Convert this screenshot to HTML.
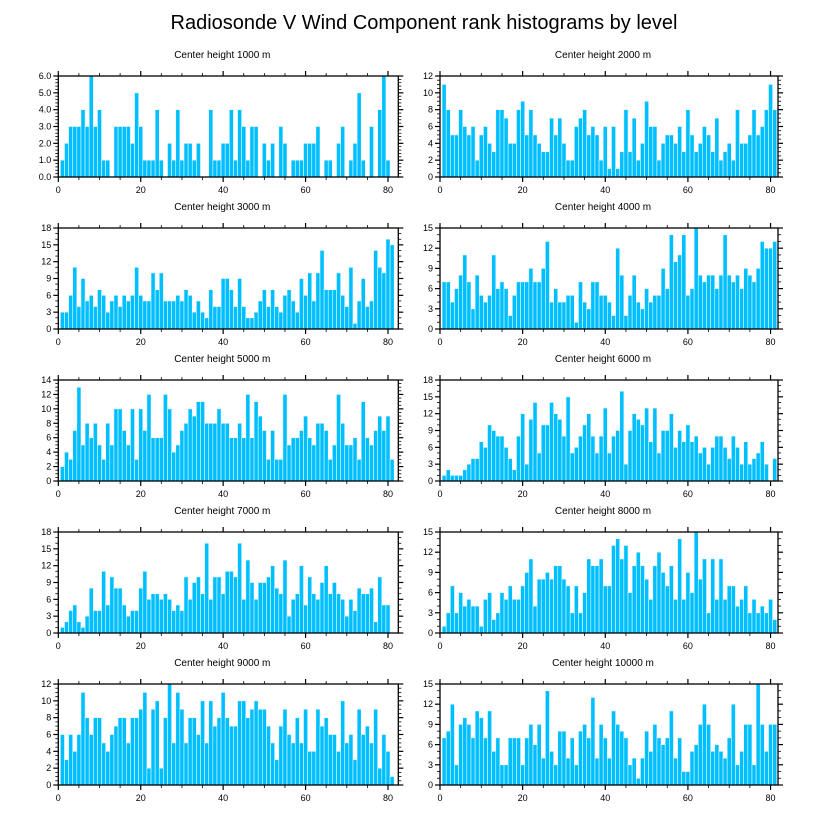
<!DOCTYPE html>
<html><head><meta charset="utf-8"><style>
html,body{margin:0;padding:0;background:#fff;}
svg{display:block;font-family:"Liberation Sans",sans-serif;}
</style></head><body>
<svg id="chart" width="818" height="824" viewBox="0 0 818 824" xmlns="http://www.w3.org/2000/svg">
<text x="424" y="29" text-anchor="middle" font-size="20">Radiosonde V Wind Component rank histograms by level</text>
</svg>
<script>
const titles = ["Center height 1000 m","Center height 2000 m","Center height 3000 m","Center height 4000 m","Center height 5000 m","Center height 6000 m","Center height 7000 m","Center height 8000 m","Center height 9000 m","Center height 10000 m"];
const yMax = [6,12,18,15,14,18,18,15,12,15];
const yStep = [1,2,3,3,2,3,3,3,2,3];
const xTicks = [0,20,40,60,80];
const h1000 = [1,2,3,3,3,4,3,6,3,4,1,1,0,3,3,3,3,2,5,3,1,1,1,4,1,0,2,1,4,1,2,2,1,2,0,0,4,1,1,2,2,4,1,4,3,1,3,3,0,2,1,2,0,3,2,0,1,1,1,2,2,2,3,0,1,1,0,2,3,0,1,2,5,1,0,3,0,4,6,1];
const h2000 = [11,8,5,5,8,6,5,6,2,5,6,4,3,8,8,7,4,4,8,9,5,8,5,4,3,3,7,5,7,4,2,2,6,7,8,5,6,5,2,6,1,6,1,3,8,3,7,2,4,9,6,6,2,4,5,5,4,6,3,8,5,3,4,6,5,3,7,2,3,4,2,8,4,4,5,8,5,6,8,11,8];
const h3000 = [3,3,6,11,4,9,5,6,4,7,6,3,5,6,4,6,5,6,11,6,5,5,10,7,10,5,5,5,6,5,7,6,3,5,3,2,7,4,4,9,9,7,4,9,4,2,2,3,5,7,4,7,4,3,6,7,5,3,9,6,10,5,10,14,7,7,7,10,6,4,11,1,5,9,4,5,14,11,10,16,15];
const h4000 = [7,7,4,6,8,11,7,3,8,5,4,5,11,6,7,6,2,5,7,7,7,9,7,7,9,13,4,6,4,4,5,5,1,7,4,3,7,7,5,5,4,2,12,8,2,5,8,4,3,6,4,5,5,9,6,14,10,11,14,5,6,15,8,7,8,8,6,8,14,8,7,8,6,9,8,7,9,13,12,12,13];
const h5000 = [2,4,3,7,13,5,8,6,8,5,3,8,5,10,10,7,5,10,3,10,7,12,6,6,6,12,10,4,5,7,8,10,9,11,11,8,8,8,10,8,8,6,6,8,6,12,6,11,9,7,3,7,3,3,12,5,6,6,7,9,6,5,8,8,7,3,5,12,8,5,5,6,3,11,6,5,7,9,7,9,3];
const h6000 = [1,2,1,1,1,2,3,4,4,7,6,10,9,8,8,6,4,2,8,12,3,11,14,5,10,10,14,12,11,8,15,5,6,8,10,12,8,5,8,13,5,8,9,16,3,9,12,11,10,13,7,13,5,9,9,12,6,9,7,10,7,8,5,6,3,6,8,8,6,4,8,6,3,7,3,4,5,7,3,0,4];
const h7000 = [1,2,4,5,2,1,3,8,4,4,11,5,10,8,8,5,3,4,4,8,11,6,7,7,6,7,6,4,5,4,10,6,9,10,7,16,6,10,10,7,11,11,10,16,6,13,9,6,9,9,10,12,8,7,13,3,6,7,12,5,10,7,6,9,12,7,9,7,6,3,6,4,8,7,7,8,2,10,5,5];
const h8000 = [1,3,7,3,6,4,5,4,4,1,5,6,2,3,6,5,7,5,5,7,9,11,4,8,8,9,8,10,10,8,7,3,7,3,6,11,10,10,11,7,7,13,14,11,13,6,10,12,10,8,5,10,12,9,7,10,5,14,5,9,6,15,8,11,3,11,5,11,5,7,7,4,5,7,3,5,3,4,3,5,2];
const h9000 = [6,3,6,4,6,11,8,6,8,8,5,4,6,7,8,8,5,8,8,9,11,2,9,10,2,8,12,5,11,9,5,8,8,6,10,5,10,7,8,11,8,7,7,10,10,8,9,10,9,9,7,5,3,7,9,6,5,8,5,9,4,4,9,7,8,6,6,4,10,5,6,3,9,6,7,5,9,2,6,4,1];
const h10000 = [7,8,12,3,9,10,9,7,11,10,7,11,5,7,3,3,7,7,7,3,7,9,6,9,4,14,5,3,8,8,4,7,3,8,9,7,13,4,9,7,4,11,9,8,7,3,4,1,4,8,5,9,7,6,7,11,4,7,2,2,5,6,9,12,9,5,6,5,4,7,12,3,5,9,9,3,15,9,5,9,9];
const series = [h1000,h2000,h3000,h4000,h5000,h6000,h7000,h8000,h9000,h10000];

const NS = "http://www.w3.org/2000/svg";
const svg = document.getElementById("chart");
function mk(tag, attrs, parent){const e=document.createElementNS(NS,tag);for(const k in attrs)e.setAttribute(k,attrs[k]);(parent||svg).appendChild(e);return e;}

for(let p=0;p<10;p++){
  const col=p%2,row=Math.floor(p/2);
  const L = col===0?58.3:440, W = col===0?340:338, XMAX = col===0?82.5:81.8;
  const T = 76+152*row, H = 101;
  const xs = v=>L+v*W/XMAX;
  const ys = v=>T+H-v*H/yMax[p];
  const g = mk("g",{});
  
  
  const t = mk("text",{x:L+W/2-6,y:T-18,"text-anchor":"middle","font-size":"10"},g);
  t.textContent = titles[p];
  
  
  series[p].forEach((v,i)=>{
    const x0=xs(i+0.5),x1=Math.min(xs(i+1.5),L+W);
    const r = mk("rect",{x:x0,y:ys(v),width:Math.max(0,x1-x0),height:ys(0)-ys(v),fill:"#00bfff",stroke:"#e8f8ff","stroke-width":"0.6"},g);
    
    
  });
  const fr = mk("rect",{x:L,y:T,width:W,height:H,fill:"none",stroke:"#000","stroke-width":"1.3"},g);
  
  
  for(let v=0;v<=80;v+=5){
    const major = v%20===0, len = major?5:3;
    mk("line",{x1:xs(v),x2:xs(v),y1:T+H,y2:T+H+len,stroke:"#000","stroke-width":major?1.2:0.8},g);
    mk("line",{x1:xs(v),x2:xs(v),y1:T,y2:T-len,stroke:"#000","stroke-width":major?1.2:0.8},g);
  }
  xTicks.forEach(v=>{
    const tl = mk("text",{x:xs(v),y:T+H+16,"text-anchor":"middle","font-size":"9"},g);
    tl.textContent = v;
    
    
  });
  const minor = yStep[p]/ (yStep[p]===3?3:(yStep[p]===1?5:4));
  for(let v=0;v<=yMax[p]+1e-9;v+=minor){
    const isMaj = Math.abs(v/yStep[p]-Math.round(v/yStep[p]))<1e-6, len=isMaj?5:3;
    mk("line",{x1:L,x2:L-len,y1:ys(v),y2:ys(v),stroke:"#000","stroke-width":isMaj?1.2:0.8},g);
    mk("line",{x1:L+W,x2:L+W+len,y1:ys(v),y2:ys(v),stroke:"#000","stroke-width":isMaj?1.2:0.8},g);
  }
  for(let v=0;v<=yMax[p];v+=yStep[p]){
    const yl = mk("text",{x:L-7,y:ys(v)+3,"text-anchor":"end","font-size":"9"},g);
    yl.textContent = yStep[p]===1? v.toFixed(1) : v;
    
    
  }
}
</script>
</body></html>
